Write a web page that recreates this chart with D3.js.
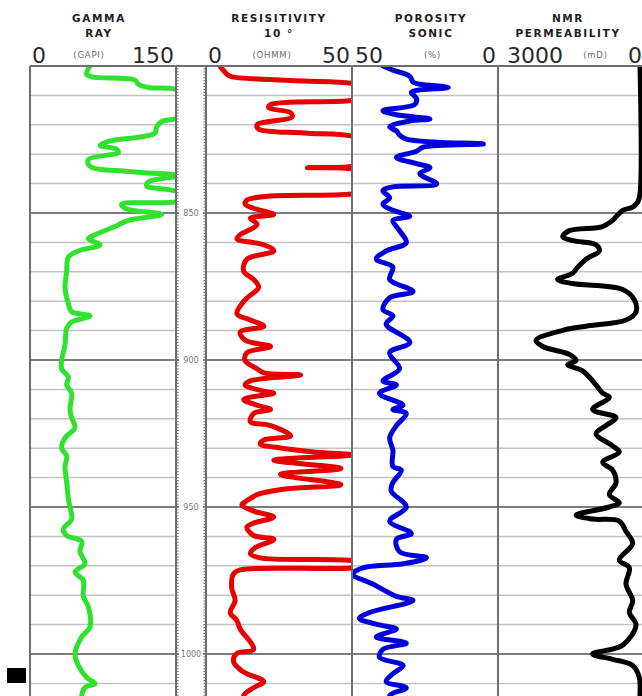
<!DOCTYPE html>
<html>
<head>
<meta charset="utf-8">
<script src="https://cdn.jsdelivr.net/npm/d3@7"></script>
<style>
  html, body { margin: 0; padding: 0; background: #fff; }
  svg { display: block; }
</style>
</head>
<body>
<script>
// ---- log curves: [depth, value] ----
const gammaRay = [
  [800, 61.6], [802.8, 58.2], [803.7, 63.4], [804.8, 107.9], [806.2, 111.3], [807.3, 121.6],
  [807.9, 149], [810, 162], [813, 170], [816, 160], [818, 149], [818.9, 135.3], [820.7, 130.1],
  [822.8, 128.4], [825.6, 80.5], [827, 71.9], [828.3, 89], [829.4, 90.8], [831.8, 59.9],
  [834.1, 61.6], [835.9, 101], [837.3, 152], [839.4, 121.6], [840.8, 119.9], [842.9, 152],
  [845.6, 155], [847, 94.2], [848.4, 97.6], [850.5, 135.3], [852.5, 101], [854.6, 87.3],
  [857.4, 66.8], [858.8, 59.9], [860.8, 71.9], [862.9, 49.7], [865, 39.4], [869.8, 37.7],
  [875.3, 36], [880.9, 39.4], [883.6, 42.8], [885, 61.6], [887.1, 42.8], [889.2, 37.7],
  [894.7, 36], [900.2, 32.5], [903, 32.5], [905.8, 39.4], [908.5, 37.7], [911.3, 42.8],
  [916.8, 41.1], [919.6, 42.8], [923, 46.2], [926.5, 36], [929.9, 32.5], [932.7, 37.7],
  [936.2, 36], [941.7, 37.7], [947.2, 39.4], [950, 41.1], [954.1, 42.8], [957.6, 34.2],
  [959.7, 37.7], [961.7, 53.1], [965.2, 51.4], [969.3, 56.5], [972.1, 46.2], [974.9, 54.8],
  [980.4, 54.8], [983.9, 59.9], [990.8, 61.6], [994.2, 53.1], [999.8, 46.2], [1003.9, 49.7],
  [1008, 58.2], [1010.1, 66.8], [1011.4, 56.5], [1014.2, 53.1], [1018, 55]
];

const resistivity = [
  [800, 4.8], [802.1, 6.5], [803.5, 8.3], [804.6, 22.1], [805.1, 33.6], [805.9, 50],
  [808, 60], [810, 58], [811.7, 50], [813.1, 22.1], [814.2, 21.5], [815.9, 29], [817.3, 29.5],
  [820, 17.5], [821.4, 18], [822.8, 33.6], [823.8, 50], [827, 62], [832, 60], [834.2, 50],
  [834.6, 34.7], [835, 50], [838, 60], [842, 58], [843.5, 50], [844.2, 22.1], [844.9, 16.3],
  [845.6, 14], [847, 13.4], [848.4, 16.3], [850.5, 23.2], [851.8, 15.2], [853.9, 17.5],
  [857.4, 11.7], [858.8, 10.6], [860.8, 19.8], [862.9, 23.2], [865.7, 14], [869.8, 12.9],
  [872.6, 16.3], [875.3, 18], [879.5, 13.4], [884.3, 10.6], [886.4, 15.2], [888.5, 19.8],
  [890.5, 11.7], [893.3, 13.4], [895.4, 22.1], [897.5, 14], [900.2, 13.4], [903, 17.5],
  [904.4, 19.8], [905.1, 32.4], [907.1, 15.2], [908.5, 13.4], [910.6, 19.8], [911.3, 23.2],
  [913.4, 12.9], [915.4, 17.5], [916.8, 22.1], [918.2, 16.3], [921, 15.2], [922.3, 22.1],
  [925.8, 29], [927.2, 19.8], [928.6, 18.6], [929.9, 25.5], [931.3, 37], [932.3, 50],
  [934.1, 23.2], [936.9, 46.2], [938.9, 25.5], [942.4, 46.2], [943.8, 27.8], [945.8, 17.5],
  [947.9, 14], [949.3, 12.3], [951.4, 16.3], [953.4, 23.2], [955.5, 16.3], [956.9, 14],
  [959.7, 16.3], [961, 23.2], [963.8, 16.9], [965.9, 15.2], [967.3, 18.6], [968.2, 50],
  [969.5, 55], [970.7, 50], [971.4, 11.7], [972.8, 9.4], [977.6, 8.8], [981.8, 10],
  [985.9, 8.3], [988.7, 10.6], [991.5, 11.7], [998.4, 16.3], [999.8, 10.6], [1002.5, 9.4],
  [1005.3, 11.7], [1006.7, 14], [1009.4, 19.8], [1011.5, 16.3], [1014.2, 12.9], [1018, 14]
];

const porositySonic = [
  [800, 39.4], [801.4, 36], [803.5, 30.2], [805.5, 29.1], [806.2, 26.8], [807.3, 17],
  [808.3, 27.9], [809, 29.7], [811.1, 27.9], [813.1, 28.5], [815.2, 39.4], [816.6, 34.8],
  [818, 23.3], [818.7, 30.2], [820.7, 37.1], [822.1, 34.8], [823.5, 33.7], [824.9, 31.4],
  [825.9, 21], [826.5, 5], [827.6, 25.6], [829, 27.9], [831.1, 34.8], [833.2, 27.9],
  [834.6, 23.3], [836.6, 26.8], [840.1, 21], [841.1, 36], [842.4, 39.4], [844.9, 37.1],
  [847, 39.4], [849.1, 36], [851.1, 30.2], [852.5, 36], [856, 33.7], [860.1, 31.4],
  [862.9, 38.3], [865.7, 41.7], [868.4, 36], [872.6, 37.1], [876.7, 29.1], [878.8, 37.1],
  [882.9, 39.4], [885, 36], [887.8, 38.3], [894, 30.2], [897.5, 37.1], [903, 33.7],
  [907.1, 39.4], [908.5, 34.8], [911.3, 40.6], [915.4, 32.5], [916.8, 36], [918.2, 31.4],
  [922.3, 34.8], [926.5, 37.1], [930.6, 36], [936.2, 36], [937.5, 33.1], [941.7, 36],
  [944.5, 36.6], [950, 31.4], [954.8, 37.1], [959, 29.7], [961, 34.8], [965.2, 33.7],
  [967.3, 24.5], [969.3, 32.5], [970.7, 46.3], [972.8, 49.8], [976.2, 42.9], [980.4, 34.8],
  [981.8, 29.1], [985.9, 44], [987.9, 47.5], [990.1, 40.6], [991.5, 34.8], [994.2, 41.7],
  [996.3, 31.4], [998.4, 39.4], [1001.1, 40.6], [1003.9, 32.5], [1006.7, 36], [1009.4, 38.3],
  [1011.5, 31.4], [1014.2, 37.1], [1018, 35]
];

const nmrPermeability = [
  [800, 82], [843.5, 82], [846.3, 130], [848, 233], [849.1, 438], [852.5, 644], [854.6, 849],
  [856, 1534], [858.1, 1671], [859.4, 1466], [860.8, 986], [862.9, 918], [865.7, 1192],
  [868.4, 1363], [870.5, 1466], [872.6, 1774], [874, 1466], [876, 438], [879.5, 199],
  [883.6, 164], [886.4, 370], [888.5, 1192], [889.9, 1671], [893.3, 2219], [895.4, 2082],
  [898.1, 1534], [900.2, 1397], [901.6, 1569], [903.7, 1260], [908.5, 986], [911.3, 849],
  [912.7, 712], [916.8, 1055], [919.6, 575], [922.3, 781], [925.1, 986], [929.2, 644],
  [931.3, 507], [934.8, 849], [937.5, 644], [941.7, 575], [945.8, 712], [948.6, 507],
  [950, 712], [952.8, 1397], [954.1, 1055], [954.8, 507], [958.3, 370], [962.4, 233],
  [968, 507], [970.7, 301], [976.2, 370], [981.8, 233], [985.9, 301], [990.1, 164],
  [997, 438], [1000, 1055], [1001.8, 644], [1003.9, 233], [1008, 96], [1014.2, 82], [1018, 82]
];

// ---- scale ends (left, right) per track ----
const gammaRayScale = [0, 150];
const resistivityScale = [0, 50];
const porosityScale = [50, 0];
const nmrScale = [3000, 0];

// ---- depth axis ----
const depthRange = [800, 1020];
const depthLabels = [850, 900, 950, 1000];

// ---- layout ----
const W = 642, H = 696;
const plotTop = 66;
const pxPerUnit = 2.94;

const tracks = [
  { id: "gr", x0: 30, x1: 176, scale: gammaRayScale, data: gammaRay, color: "#2ee22e",
    title: ["GAMMA", "RAY"], unit: "(GAPI)", tcx: 99, padL: 2 },
  { id: "res", x0: 206, x1: 352, scale: resistivityScale, data: resistivity, color: "#e60000",
    title: ["RESISITIVITY", "10 \u00b0"], unit: "(OHMM)", tcx: 279, padL: 2 },
  { id: "por", x0: 352, x1: 498, scale: porosityScale, data: porositySonic, color: "#0000dc",
    title: ["POROSITY", "SONIC"], unit: "(%)", tcx: 431, padL: 3 },
  { id: "nmr", x0: 498, x1: 644, scale: nmrScale, data: nmrPermeability, color: "#000000",
    title: ["NMR", "PERMEABILITY"], unit: "(mD)", tcx: 568, padL: 9 }
];
const depthTrack = { x0: 176, x1: 206 };

const svg = d3.select("body").append("svg")
  .attr("width", W).attr("height", H)
  .style("font-family", "'DejaVu Sans', Verdana, sans-serif");

const y = d3.scaleLinear()
  .domain(depthRange)
  .range([plotTop, plotTop + (depthRange[1] - depthRange[0]) * pxPerUnit]);

const defs = svg.append("defs");
const gridSteps = d3.range(depthRange[0], depthRange[1] + 1, 10);

// ---- curve tracks ----
tracks.forEach(t => {
  const x = d3.scaleLinear().domain(t.scale).range([t.x0, t.x1]);

  defs.append("clipPath").attr("id", "clip-" + t.id)
    .append("rect")
    .attr("x", t.x0).attr("y", plotTop)
    .attr("width", t.x1 - t.x0).attr("height", H - plotTop);

  const g = svg.append("g");

  // grid
  g.selectAll("line.grid")
    .data(gridSteps.filter(d => d > depthRange[0]))
    .join("line")
    .attr("x1", t.x0).attr("x2", t.x1)
    .attr("y1", d => y(d)).attr("y2", d => y(d))
    .attr("stroke", d => d % 50 === 0 ? "#7c7c7c" : "#c2c2c2")
    .attr("stroke-width", d => d % 50 === 0 ? 2 : 1.5);

  // curve
  const line = d3.line()
    .x(d => x(d[1]))
    .y(d => y(d[0]))
    .curve(d3.curveCatmullRom.alpha(0.5));

  g.append("path")
    .datum(t.data)
    .attr("clip-path", "url(#clip-" + t.id + ")")
    .attr("d", line)
    .attr("fill", "none")
    .attr("stroke", t.color)
    .attr("stroke-width", 5)
    .attr("stroke-linejoin", "round")
    .attr("stroke-linecap", "round");

  // header: title
  t.title.forEach((s, i) => {
    svg.append("text")
      .attr("x", t.tcx).attr("y", 21.5 + i * 15.5)
      .attr("text-anchor", "middle")
      .attr("font-size", 10.5).attr("font-weight", "bold")
      .attr("letter-spacing", 1.6)
      .attr("fill", "#1e1e1e")
      .text(s);
  });

  // header: scale ends
  const left = svg.append("text")
    .attr("x", t.x0 + t.padL).attr("y", 63)
    .attr("font-size", 22).attr("fill", "#2a2a2a")
    .text(d3.format("d")(t.scale[0]));
  const right = svg.append("text")
    .attr("x", t.x1 - 2).attr("y", 63)
    .attr("text-anchor", "end")
    .attr("font-size", 22).attr("fill", "#2a2a2a")
    .text(d3.format("d")(t.scale[1]));

  // header: unit centred between the scale labels
  const lb = left.node().getBBox(), rb = right.node().getBBox();
  svg.append("text")
    .attr("x", (lb.x + lb.width + rb.x) / 2).attr("y", 57.5)
    .attr("text-anchor", "middle")
    .attr("font-size", 8.5).attr("letter-spacing", 0.8)
    .attr("fill", "#6a6a6a")
    .text(t.unit);
});

// ---- depth track ----
const dg = svg.append("g");
const ticks = d3.range(depthRange[0] + 1, depthRange[1], 1);
[[depthTrack.x0, 2.5], [depthTrack.x1, -2.5]].forEach(([xe, len]) => {
  dg.selectAll(null).data(ticks).join("line")
    .attr("x1", xe).attr("x2", xe + len)
    .attr("y1", d => y(d)).attr("y2", d => y(d))
    .attr("stroke", "#666").attr("stroke-width", 1);
});
depthLabels.forEach(d => {
  dg.append("line")
    .attr("x1", depthTrack.x0).attr("x2", depthTrack.x1)
    .attr("y1", y(d)).attr("y2", y(d))
    .attr("stroke", "#7c7c7c").attr("stroke-width", 2);
  dg.append("rect")
    .attr("x", depthTrack.x0 + 3).attr("y", y(d) - 5)
    .attr("width", depthTrack.x1 - depthTrack.x0 - 6).attr("height", 10)
    .attr("fill", "#fff");
  dg.append("text")
    .attr("x", (depthTrack.x0 + depthTrack.x1) / 2).attr("y", y(d))
    .attr("dy", "0.35em")
    .attr("text-anchor", "middle")
    .attr("font-size", 8).attr("fill", "#777")
    .text(d);
});

// ---- frame ----
const edges = [30, 176, 206, 352, 498];
svg.append("g").selectAll("line").data(edges).join("line")
  .attr("x1", d => d).attr("x2", d => d)
  .attr("y1", plotTop).attr("y2", H)
  .attr("stroke", "#6e6e6e").attr("stroke-width", 2);
svg.append("line")
  .attr("x1", 30).attr("x2", W).attr("y1", plotTop).attr("y2", plotTop)
  .attr("stroke", "#6e6e6e").attr("stroke-width", 2);

// side marker
svg.append("rect")
  .attr("x", 7).attr("y", 668).attr("width", 19).attr("height", 15)
  .attr("fill", "#000");
</script>
</body>
</html>
